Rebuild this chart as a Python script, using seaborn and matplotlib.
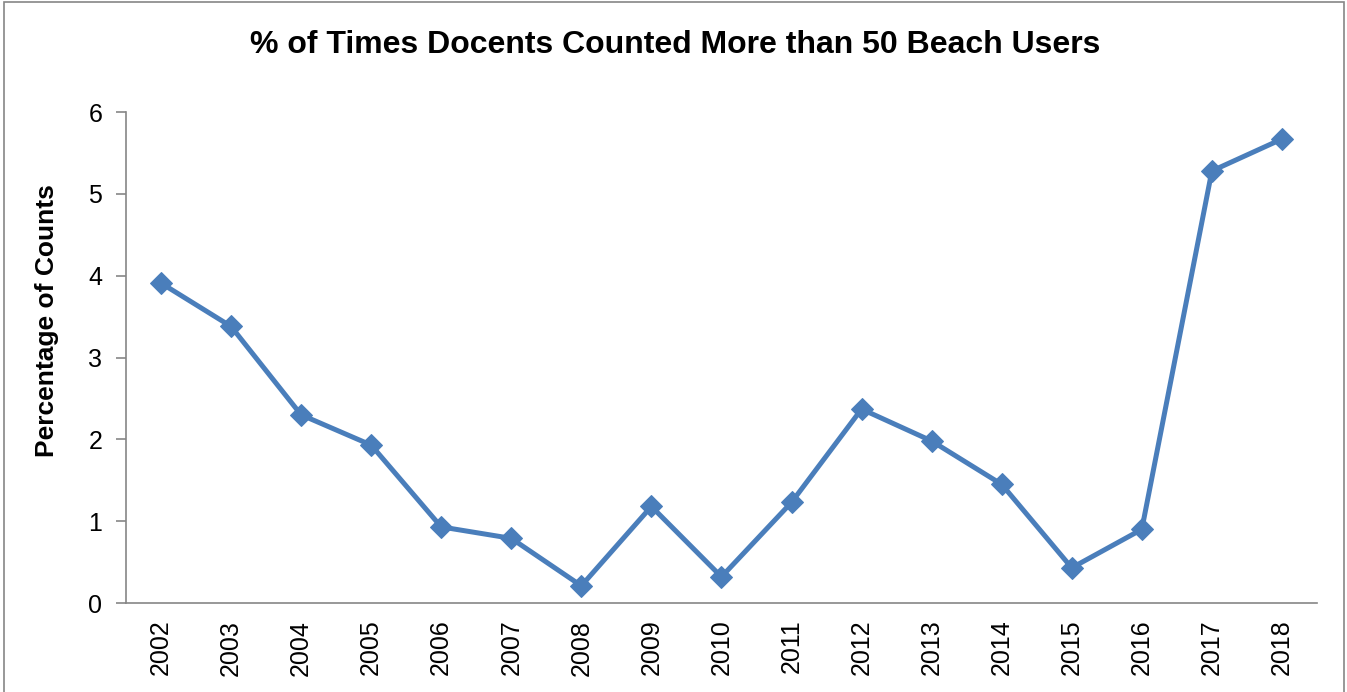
import matplotlib
matplotlib.use("Agg")
import matplotlib.pyplot as plt
from matplotlib.patches import Rectangle
import numpy as np
import pandas as pd
import seaborn as sns

years = ["2002", "2003", "2004", "2005", "2006", "2007", "2008", "2009", "2010",
         "2011", "2012", "2013", "2014", "2015", "2016", "2017", "2018"]
pct = [3.91, 3.38, 2.30, 1.93, 0.93, 0.79, 0.21, 1.18, 0.32,
       1.23, 2.37, 1.98, 1.45, 0.43, 0.90, 5.28, 5.67]

sns.set_style("white")
plt.rcParams['font.family'] = ['Liberation Sans', 'DejaVu Sans']
plt.rcParams['text.color'] = 'black'
plt.rcParams['xtick.color'] = 'black'
plt.rcParams['ytick.color'] = 'black'
plt.rcParams['axes.labelcolor'] = 'black'

df = pd.DataFrame({'Year': years, 'Pct': pct})

fig = plt.figure(figsize=(13.47, 6.92), dpi=100)
ax = fig.add_axes([0.0935, 0.1286, 0.8842, 0.7095])

line_color = '#4a7ebb'
sns.lineplot(data=df, x='Year', y='Pct', ax=ax, color=line_color, linewidth=3.6,
             marker='D', markersize=11, markeredgecolor=line_color, sort=False)

ax.set_xlim(-0.5, len(years) - 0.5)
ax.set_ylim(0, 6)
ax.set_yticks(range(0, 7))
ax.set_xticks(range(len(years)))
ax.set_xticklabels(years, rotation=90)
ax.set_xticks(np.arange(-0.5, len(years)), minor=True)
ax.tick_params(axis='x', which='major', length=0, labelsize=18, pad=12)
ax.tick_params(axis='x', which='minor', length=7, width=1.2, color='#868686', direction='out')
ax.tick_params(axis='y', length=7, width=1.2, color='#868686', labelcolor='black',
               direction='out', labelsize=18, pad=10)
ax.tick_params(left=True, bottom=True)

for s in ['top', 'right']:
    ax.spines[s].set_visible(False)
for s in ['left', 'bottom']:
    ax.spines[s].set_color('#868686')
    ax.spines[s].set_linewidth(1.2)

ax.set_xlabel('')
ax.set_ylabel('Percentage of Counts', fontsize=19, fontweight='bold')
ax.yaxis.set_label_coords(-0.056, 0.576)
fig.text(0.501, 0.935, '% of Times Docents Counted More than 50 Beach Users',
         ha='center', va='center', fontsize=23, fontweight='bold')

# outer chart border
fig.patches.append(Rectangle((4 / 1347, -0.05), 1340 / 1347, 1.047,
                             transform=fig.transFigure, fill=False,
                             edgecolor='#868686', linewidth=1.2))

plt.savefig('out.png', dpi=100)
plt.close()
